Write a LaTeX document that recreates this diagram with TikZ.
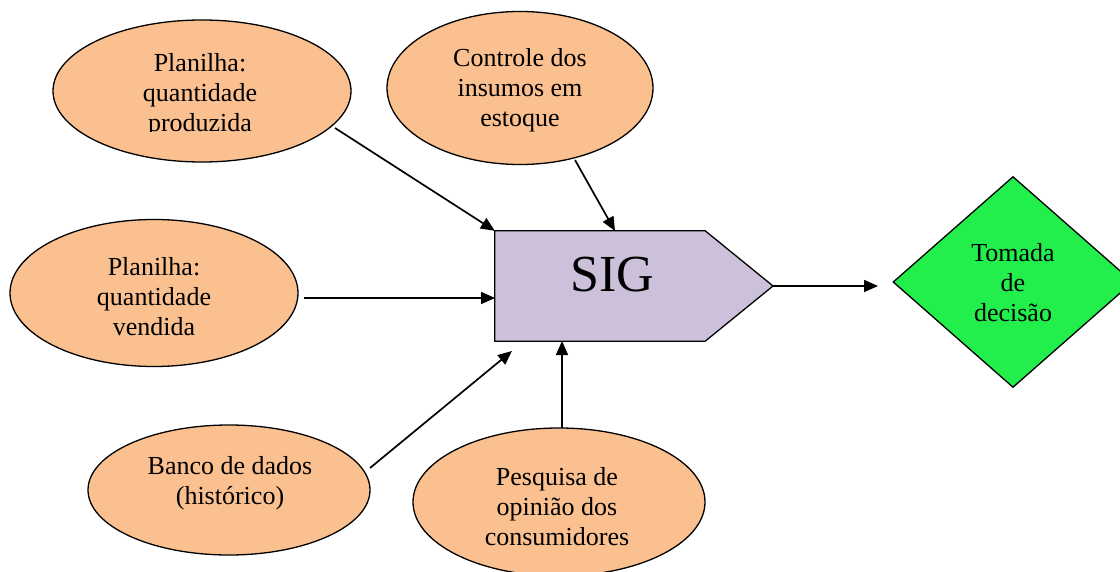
\documentclass[tikz,border=0pt]{standalone}
\usepackage{fontspec}
\setmainfont{Liberation Serif}
\usetikzlibrary{arrows.meta,shapes.geometric,calc}
\definecolor{peach}{HTML}{FAC090}
\definecolor{lav}{HTML}{CCC0DA}
\definecolor{dgreen}{HTML}{22EE4C}
\begin{document}
\begin{tikzpicture}[x=1pt,y=-1pt,
  ell/.style={ellipse, draw=black, line width=1.3pt, fill=peach, inner sep=0pt},
  lbl/.style={align=center, font=\fontsize{26}{30}\selectfont, inner sep=0pt},
  arr/.style={line width=1.7pt, -{Triangle[length=14pt,width=12pt]}}]
\useasboundingbox (0,0) rectangle (1120,572);
\fill[white] (0,0) rectangle (1120,572);

% ellipses
\node[ell, minimum width=298pt, minimum height=142pt] (e1) at (202,91) {};
\begin{scope}
\clip (0,0) rectangle (1120,132);
\node[lbl] (t1) at (200,95) {Planilha:\\quantidade\\produzida};
\end{scope}
\node[ell, minimum width=266pt, minimum height=153pt] (e2) at (520,88) {};
\node[lbl] (t2) at (520,90) {Controle dos\\insumos em\\estoque};
\node[ell, minimum width=288pt, minimum height=147pt] (e3) at (154,293) {};
\node[lbl] (t3) at (154,297) {Planilha:\\quantidade\\vendida};
\node[ell, minimum width=282pt, minimum height=130pt] (e4) at (229,490) {};
\node[lbl] (t4) at (230,483) {Banco de dados\\(histórico)};
\node[ell, minimum width=292pt, minimum height=148pt] (e5) at (559,502) {};
\node[lbl] (t5) at (557,507) {Pesquisa de\\opinião dos\\consumidores};

% SIG
\node[minimum width=210pt, minimum height=110pt, inner sep=0pt] (sig) at (600,286) {};
\coordinate (sigtip) at (773,286);
\draw[fill=lav, line width=1.3pt] (sig.north west) -- (sig.north east) -- (sigtip) -- (sig.south east) -- (sig.south west) -- cycle;
\node[inner sep=0pt, font=\fontsize{52}{60}\selectfont] (sigt) at (612,275) {SIG};

% decision
\node[diamond, draw=black, line width=1.3pt, fill=dgreen, minimum width=240pt, minimum height=211pt, inner sep=0pt] (dec) at (1013,282) {};
\node[lbl] (tdec) at (1013,283) {Tomada\\de\\decisão};

% arrows
\coordinate (a1) at (335,128);
\coordinate (a2) at (575,160);
\coordinate (a2e) at (615,231);
\coordinate (a3) at (304,298);
\coordinate (a3e) at (495,298);
\coordinate (a4) at (370,468);
\coordinate (a4e) at (512,351);
\coordinate (a5) at (562,428);
\coordinate (a5e) at (562,341);
\coordinate (a6e) at (878,286);
\draw[arr] (a1) -- (sig.north west);
\draw[arr] (a2) -- (a2e);
\draw[arr] (a3) -- (a3e);
\draw[arr] (a4) -- (a4e);
\draw[arr] (a5) -- (a5e);
\draw[arr] (sigtip) -- (a6e);
\end{tikzpicture}
\end{document}
